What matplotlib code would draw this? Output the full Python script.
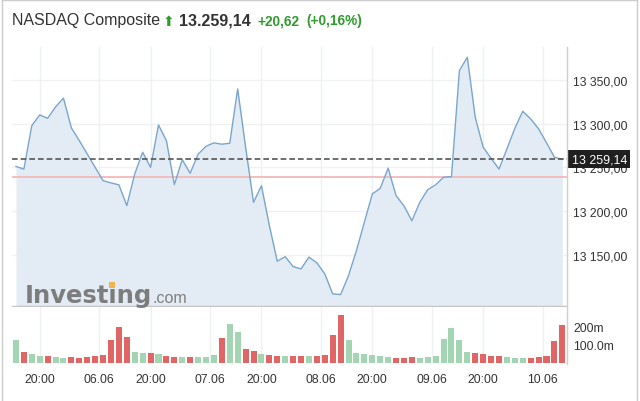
import matplotlib.pyplot as plt
import numpy as np
from matplotlib.lines import Line2D
from matplotlib.patches import Rectangle

plt.rcParams['font.family'] = ['Liberation Sans', 'DejaVu Sans']

# hourly closes
price = [13251, 13248, 13297.6, 13309.8, 13306, 13319, 13329, 13295, 13280.5, 13265.3,
         13250, 13234.8, 13232.2, 13230, 13206.3, 13242.5, 13267.2, 13250, 13298.4, 13280.5,
         13230.3, 13258.8, 13243.2, 13265, 13274, 13277.9, 13276.4, 13277.5, 13339.5, 13273,
         13210, 13229, 13183.5, 13142.8, 13148, 13136.7, 13134, 13147.4, 13141, 13128.3,
         13105.5, 13104.7, 13126.4, 13155, 13187.3, 13219.6, 13226, 13249, 13217.7, 13206,
         13189, 13210, 13224.5, 13230, 13238.7, 13239.4, 13360.4, 13375.7, 13307, 13273,
         13260.4, 13248, 13271, 13294.6, 13314, 13305.3, 13294, 13278, 13261.5, 13259.14]

# volume in millions
volume_m = [128, 63, 50, 37, 39, 31, 26, 33, 28, 33,
            39, 44, 128, 200, 143, 61, 56, 56, 50, 37,
            33, 33, 32, 31, 31, 44, 137, 217, 170, 78,
            65, 48, 43, 37, 37, 37, 37, 37, 37, 44,
            156, 265, 128, 56, 50, 44, 37, 31, 26, 26,
            31, 26, 31, 37, 133, 194, 128, 61, 57, 50,
            39, 39, 31, 26, 26, 26, 31, 37, 122, 213]

# bar direction: G = up, R = down
vol_dir = "GRGGRGGRRR" "RRRRRGGRGR" "RGRGGGRGGR" "RGRRGRRGRR" "RRGGGGGGRR" "RGGGGGGGRR" "RRGGGRRRRR"

last_close = 13259.14
prev_close = 13238.52
change = 20.62
change_pct = 0.16

tick_pos = [3, 10.5, 17, 24.5, 31, 38.5, 45, 52.5, 59, 66.5]
tick_lab = ['20:00', '06.06', '20:00', '07.06', '20:00', '08.06', '20:00', '09.06', '20:00', '10.06']
price_ticks = [13150, 13200, 13250, 13300, 13350]

W, H = 640, 402
fig = plt.figure(figsize=(W / 100, H / 100), dpi=100)

def fx(px):
    return px / W

def fy(py):
    return 1 - py / H

ax_p = fig.add_axes([fx(12), fy(306.7), fx(566.7) - fx(12), fy(48) - fy(306.7)])
ax_v = fig.add_axes([fx(12), fy(364), fx(566.7) - fx(12), fy(308) - fy(364)])

x = np.arange(len(price))
grid_c = '#eef1f4'

# price panel
ax_p.fill_between(x, price, 13000, color='#e3ecf5', lw=0, zorder=1)
ax_p.plot(x, price, color='#7aa5cd', lw=1.0, zorder=3)
for t in tick_pos:
    ax_p.axvline(t, color=grid_c, lw=1, zorder=0.5)
for t in price_ticks:
    ax_p.axhline(t, color='#f1f1f1', lw=1, zorder=0.5)
ax_p.axhline(prev_close, color='#f3b9b9', lw=1.3, zorder=2)
ax_p.axhline(last_close, color='#555555', lw=1.2, ls=(0, (3.4, 1.8)), zorder=4)
ax_p.set_xlim(-0.5, 69.55)
ax_p.set_ylim(13092, 13387.4)

def fmt_price(v):
    return f"{v:,.2f}".replace(',', ' ').replace('.', ',')

ax_p.yaxis.tick_right()
ax_p.set_yticks(price_ticks)
ax_p.set_yticklabels([fmt_price(v) for v in price_ticks])
ax_p.tick_params(axis='y', length=0, pad=4.5, labelsize=8.7, labelcolor='#333333')
ax_p.set_xticks([])
for s in ['top', 'left', 'right']:
    ax_p.spines[s].set_visible(False)
ax_p.spines['bottom'].set_color('#c4c4c4')
ax_p.spines['bottom'].set_linewidth(1)

ax_p.annotate(fmt_price(last_close), xy=(1, last_close), xycoords=('axes fraction', 'data'),
              xytext=(3.5, 0), textcoords='offset points', ha='left', va='center',
              fontsize=8.9, color='white', zorder=10, annotation_clip=False,
              bbox=dict(boxstyle='square,pad=0.25', fc='#1f1f1f', ec='none'))

# volume panel
cols = ['#a3d5b3' if d == 'G' else '#e06666' for d in vol_dir]
for t in tick_pos:
    ax_v.axvline(t, color=grid_c, lw=1, zorder=0.5)
ax_v.bar(x, np.array(volume_m) * 1e6, width=0.76, color=cols, zorder=2)
ax_v.set_xlim(-0.5, 69.55)
ax_v.set_ylim(0, 311e6)
ax_v.yaxis.tick_right()
ax_v.set_yticks([100e6, 200e6])
ax_v.set_yticklabels(['100.0m', '200m'])
ax_v.set_xticks(tick_pos)
ax_v.set_xticklabels(tick_lab)
ax_v.tick_params(axis='y', length=0, pad=4.5, labelsize=8.7, labelcolor='#333333')
ax_v.tick_params(axis='x', length=0, pad=7, labelsize=8.7, labelcolor='#333333')
for s in ['top', 'left', 'right', 'bottom']:
    ax_v.spines[s].set_visible(False)

# right axis line and widget border
fig.add_artist(Line2D([fx(566.7)] * 2, [fy(48), fy(365)], color='#cfcfcf', lw=1))
fig.add_artist(Line2D([fx(1.5)] * 2, [0, fy(0.5)], color='#cccccc', lw=1))
fig.add_artist(Line2D([fx(636.5)] * 2, [0, fy(0.5)], color='#cccccc', lw=1))
fig.add_artist(Line2D([fx(1.5), fx(636.5)], [fy(0.5)] * 2, color='#cccccc', lw=1))

# header
green = '#2f9c2f'
fig.text(fx(12), fy(21), 'NASDAQ Composite', fontsize=11.5, color='#333333', va='center')
fig.text(fx(162.5), fy(21.5), '\u2b06', fontsize=10, color=green, va='center',
         family=['DejaVu Sans'])
fig.text(fx(179.5), fy(21), f"{last_close:,.2f}".replace(',', 'X').replace('.', ',').replace('X', '.'),
         fontsize=11.5, fontweight='bold', color='#333333', va='center')
fig.text(fx(257), fy(21), f"+{change:.2f}".replace('.', ','), fontsize=9.8,
         fontweight='bold', color=green, va='center')
fig.text(fx(306), fy(21), f"(+{change_pct:.2f}%)".replace('.', ','), fontsize=9.8,
         fontweight='bold', color=green, va='center')

# watermark, sized so "Investing" spans about 25..153 px
renderer = fig.canvas.get_renderer()
wm_kw = dict(fontweight='bold', color='#7d7d7d', va='baseline', zorder=20, family=['DejaVu Sans'])
wm = fig.text(fx(25), fy(303), 'Investing', fontsize=17, **wm_kw)
w0 = wm.get_window_extent(renderer).width
size = 17 * 128 / w0
wm.set_fontsize(size)
wm_right = wm.get_window_extent(renderer).x1
fig.text(wm_right / W + fx(0.5), fy(303), '.com', fontsize=11.5, color='#7d7d7d',
         va='baseline', zorder=20)

# orange dot over the second "i"
probe = fig.text(fx(25), fy(303), 'Invest', fontsize=size, **wm_kw)
i_left = probe.get_window_extent(renderer).x1
probe.remove()
fig.add_artist(Rectangle((fx(i_left - 0.5), fy(289)), fx(6), fy(283) - fy(289),
                         color='#efb54e', lw=0, zorder=21))

fig.savefig('out.png', dpi=100)
